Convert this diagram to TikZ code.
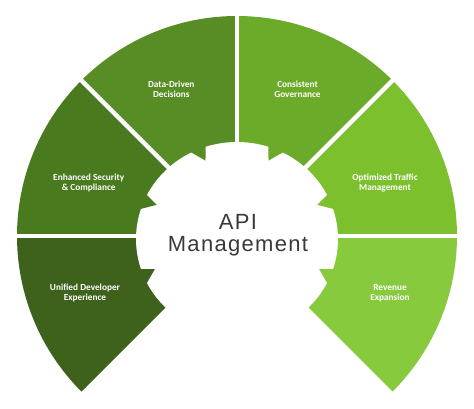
\documentclass[tikz,border=0pt]{standalone}
\usepackage{fontspec}
\setmainfont{Liberation Sans}
\newfontfamily\labelfont{Carlito}
\newfontfamily\titlefont{Liberation Sans}[LetterSpace=6]
\definecolor{secA}{HTML}{3E611B}
\definecolor{secB}{HTML}{497A1E}
\definecolor{secC}{HTML}{588C24}
\definecolor{secD}{HTML}{6CAA29}
\definecolor{secE}{HTML}{7CC02E}
\definecolor{secF}{HTML}{87CA3D}
\definecolor{titlegray}{HTML}{3A3A3A}
\begin{document}
\begin{tikzpicture}[x=1pt,y=1pt,
  lbl/.style={text=white, font=\labelfont\bfseries\fontsize{9.3}{10}\selectfont, align=center, inner sep=0pt},
  ttl/.style={text=titlegray, font=\titlefont\fontsize{22}{22.4}\selectfont, anchor=base, inner sep=0pt},
  gapline/.style={draw=white, line width=4.3pt}]
\useasboundingbox (0,0) rectangle (474,408);
\fill[white] (0,0) rectangle (474,408);
\coordinate (O) at (237,172);
% sectors
\begin{scope}[shift={(237,172)}]
  \foreach \a/\b/\c in {180/225/secA,135/180/secB,90/135/secC,45/90/secD,0/45/secE,-45/0/secF}{
    \fill[\c] (0,0) -- (\a:220) arc[start angle=\a, end angle=\b, radius=220pt] -- cycle;
  }
\end{scope}
% gear
\fill[white] (237,169) ellipse [x radius=101pt, y radius=97pt];
% notches
\foreach \m/\s/\c in {112.5/1/secC,157.5/1/secB,202.5/1/secA,67.5/-1/secD,22.5/-1/secE,-22.5/-1/secF}{
  \fill[\c] ({237+104*cos(\m-5*\s)},{169+100*sin(\m-5*\s)})
    -- ({237+88*cos(\m-1.5*\s)},{169+84*sin(\m-1.5*\s)})
    -- ({237+104*cos(\m+5.5*\s)},{169+100*sin(\m+5.5*\s)}) -- cycle;
}
% gaps
\foreach \a in {0,45,90,135,180}{
  \draw[gapline] (O) -- ++(\a:226);
}
% labels
\node[lbl] (data) at (171.3,319) {Data-Driven\\Decisions};
\node[lbl] (gov) at (297.5,319) {Consistent\\Governance};
\node[lbl] (sec) at (88.7,225) {Enhanced Security\\\& Compliance};
\node[lbl] (traf) at (385,225) {Optimized Traffic\\Management};
\node[lbl] (dev) at (85,115) {Unified Developer\\Experience};
\node[lbl] (rev) at (390,115) {Revenue\\Expansion};
% title
\node[ttl] (api) at (238,178.7) {API};
\node[ttl] (mgmt) at (238,156.3) {Management};
\end{tikzpicture}
\end{document}
